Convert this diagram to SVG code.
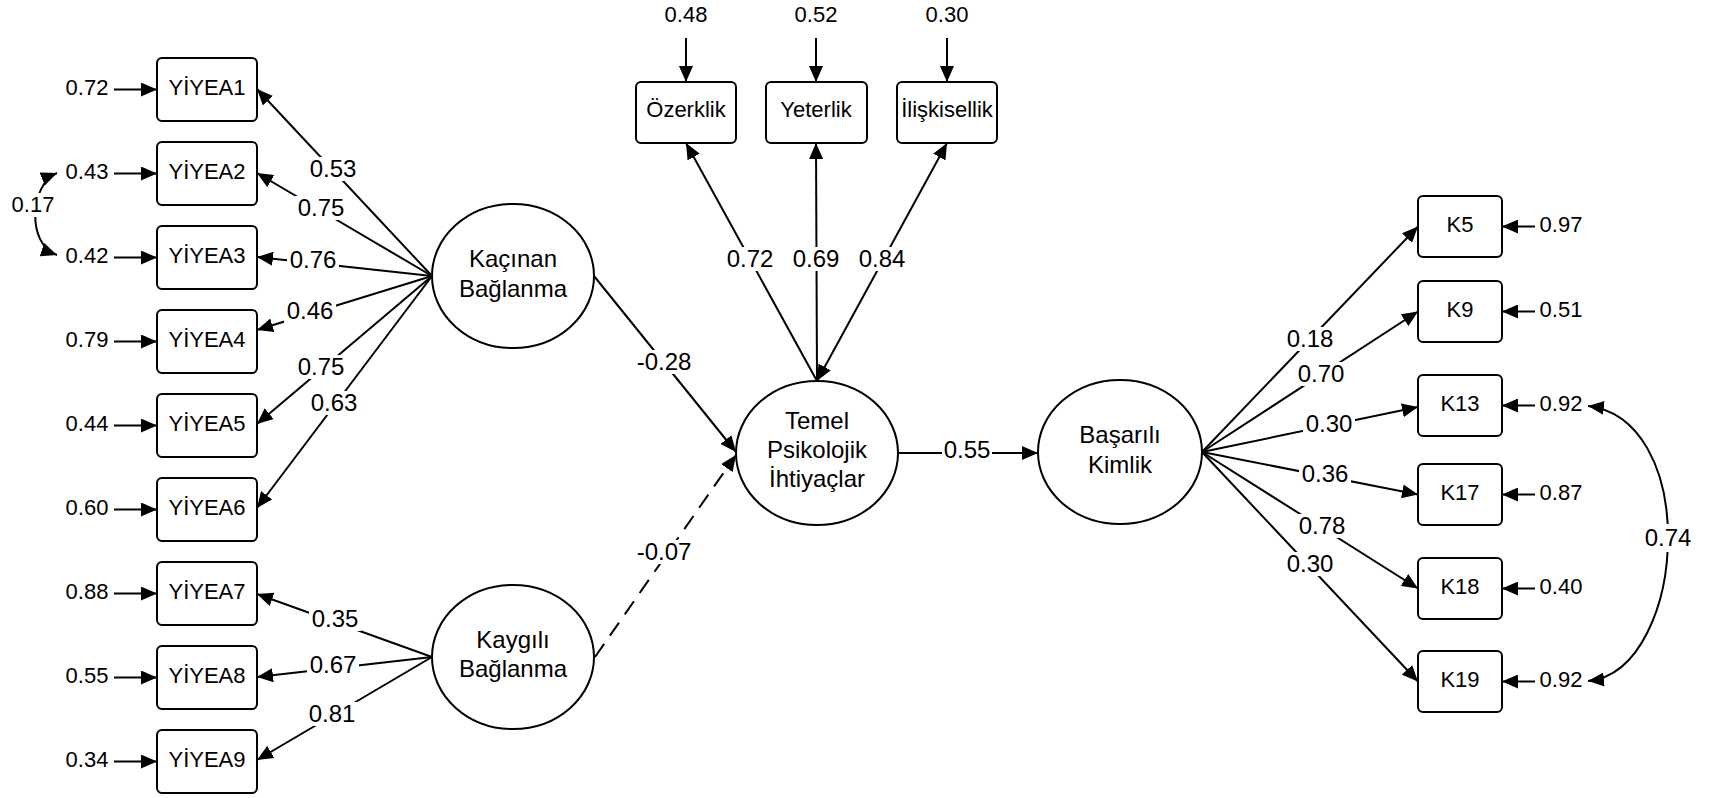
<svg xmlns="http://www.w3.org/2000/svg" width="1709" height="798" viewBox="0 0 1709 798">
<defs>
<style>
.box{fill:#fff;stroke:#000;stroke-width:2}
.ell{fill:#fff;stroke:#000;stroke-width:2}
.c{fill:none;stroke:#000;stroke-width:2}
.d{stroke-dasharray:16 10}
.bg{fill:#fff;stroke:none}
text{font-family:"Liberation Sans",Arial,sans-serif;text-anchor:middle;fill:#000}
.t22{font-size:22px}
.t24{font-size:24px}
.lbl{font-size:24px}
</style>
<marker id="ah" markerUnits="userSpaceOnUse" markerWidth="18" markerHeight="14" refX="16" refY="7" orient="auto-start-reverse"><path d="M0,0 L16,7 L0,14 z" fill="#000"/></marker>
</defs>
<rect width="1709" height="798" fill="#fff"/>
<g id="connectors">
<path class="c" marker-end="url(#ah)" d="M114 89.5H157"/>
<path class="c" marker-end="url(#ah)" d="M114 173.5H157"/>
<path class="c" marker-end="url(#ah)" d="M114 257.5H157"/>
<path class="c" marker-end="url(#ah)" d="M114 341.5H157"/>
<path class="c" marker-end="url(#ah)" d="M114 425.5H157"/>
<path class="c" marker-end="url(#ah)" d="M114 509.5H157"/>
<path class="c" marker-end="url(#ah)" d="M114 593.5H157"/>
<path class="c" marker-end="url(#ah)" d="M114 677.5H157"/>
<path class="c" marker-end="url(#ah)" d="M114 761.5H157"/>
<path class="c" marker-start="url(#ah)" marker-end="url(#ah)" d="M57 173 C30 184, 26 244, 57 255"/>
<path class="c" marker-end="url(#ah)" d="M432 276L257 89"/>
<path class="c" marker-end="url(#ah)" d="M432 276L257 173"/>
<path class="c" marker-end="url(#ah)" d="M432 276L257 257"/>
<path class="c" marker-end="url(#ah)" d="M432 276L257 330"/>
<path class="c" marker-end="url(#ah)" d="M432 276L257 424"/>
<path class="c" marker-end="url(#ah)" d="M432 276L257 508"/>
<path class="c" marker-end="url(#ah)" d="M432 657L257 594"/>
<path class="c" marker-end="url(#ah)" d="M432 657L257 677"/>
<path class="c" marker-end="url(#ah)" d="M432 657L257 760"/>
<path class="c" marker-end="url(#ah)" d="M594 276L736 452"/>
<path class="c d" marker-end="url(#ah)" d="M595 657L736 455"/>
<path class="c" marker-end="url(#ah)" d="M898 453H1038"/>
<path class="c" marker-end="url(#ah)" d="M817 381L686 143"/>
<path class="c" marker-end="url(#ah)" d="M817 381L816 143"/>
<path class="c" marker-start="url(#ah)" marker-end="url(#ah)" d="M817 381L947 143"/>
<path class="c" marker-end="url(#ah)" d="M686 38V82"/>
<path class="c" marker-end="url(#ah)" d="M816 38V82"/>
<path class="c" marker-end="url(#ah)" d="M947 38V82"/>
<path class="c" marker-end="url(#ah)" d="M1202 452L1418 226.5"/>
<path class="c" marker-end="url(#ah)" d="M1202 452L1418 311.5"/>
<path class="c" marker-end="url(#ah)" d="M1202 452L1418 407"/>
<path class="c" marker-end="url(#ah)" d="M1202 452L1418 494.5"/>
<path class="c" marker-end="url(#ah)" d="M1202 452L1418 588.5"/>
<path class="c" marker-end="url(#ah)" d="M1202 452L1418 681.5"/>
<path class="c" marker-end="url(#ah)" d="M1535 226.5H1502"/>
<path class="c" marker-end="url(#ah)" d="M1535 311.5H1502"/>
<path class="c" marker-end="url(#ah)" d="M1535 405.5H1502"/>
<path class="c" marker-end="url(#ah)" d="M1535 494.5H1502"/>
<path class="c" marker-end="url(#ah)" d="M1535 588.5H1502"/>
<path class="c" marker-end="url(#ah)" d="M1535 681.5H1502"/>
<path class="c" marker-start="url(#ah)" marker-end="url(#ah)" d="M1588 406 C1640 412, 1668 470, 1668 537 C1668 604, 1640 676, 1588 681"/>
<!-- label backgrounds -->
<rect class="bg" x="9" y="193" width="48" height="24"/>
<rect class="bg" x="307" y="157" width="52" height="24"/>
<rect class="bg" x="295" y="196" width="52" height="24"/>
<rect class="bg" x="287" y="248" width="52" height="24"/>
<rect class="bg" x="284" y="299" width="52" height="24"/>
<rect class="bg" x="295" y="355" width="52" height="24"/>
<rect class="bg" x="308" y="391" width="52" height="24"/>
<rect class="bg" x="309" y="607" width="52" height="24"/>
<rect class="bg" x="307" y="653" width="52" height="24"/>
<rect class="bg" x="306" y="702" width="52" height="24"/>
<rect class="bg" x="634" y="350" width="60" height="24"/>
<rect class="bg" x="634" y="540" width="60" height="24"/>
<rect class="bg" x="942" y="438" width="50" height="24"/>
<rect class="bg" x="724" y="247" width="52" height="24"/>
<rect class="bg" x="790" y="247" width="52" height="24"/>
<rect class="bg" x="856" y="247" width="52" height="24"/>
<rect class="bg" x="1284" y="327" width="52" height="24"/>
<rect class="bg" x="1295" y="362" width="52" height="24"/>
<rect class="bg" x="1303" y="412" width="52" height="24"/>
<rect class="bg" x="1299" y="462" width="52" height="24"/>
<rect class="bg" x="1296" y="514" width="52" height="24"/>
<rect class="bg" x="1284" y="552" width="52" height="24"/>
<rect class="bg" x="1642" y="524" width="52" height="28"/>
<!-- error labels -->
<text class="t22" x="87" y="95">0.72</text>
<text class="t22" x="87" y="179">0.43</text>
<text class="t22" x="87" y="263">0.42</text>
<text class="t22" x="87" y="347">0.79</text>
<text class="t22" x="87" y="431">0.44</text>
<text class="t22" x="87" y="515">0.60</text>
<text class="t22" x="87" y="599">0.88</text>
<text class="t22" x="87" y="683">0.55</text>
<text class="t22" x="87" y="767">0.34</text>
<text class="t22" x="33" y="212">0.17</text>
<text class="t22" x="686" y="22">0.48</text>
<text class="t22" x="816" y="22">0.52</text>
<text class="t22" x="947" y="22">0.30</text>
<text class="t22" x="1561" y="232">0.97</text>
<text class="t22" x="1561" y="317">0.51</text>
<text class="t22" x="1561" y="411">0.92</text>
<text class="t22" x="1561" y="500">0.87</text>
<text class="t22" x="1561" y="594">0.40</text>
<text class="t22" x="1561" y="687">0.92</text>
<!-- loading labels -->
<text class="lbl" x="333" y="177">0.53</text>
<text class="lbl" x="321" y="216">0.75</text>
<text class="lbl" x="313" y="268">0.76</text>
<text class="lbl" x="310" y="319">0.46</text>
<text class="lbl" x="321" y="375">0.75</text>
<text class="lbl" x="334" y="411">0.63</text>
<text class="lbl" x="335" y="627">0.35</text>
<text class="lbl" x="333" y="673">0.67</text>
<text class="lbl" x="332" y="722">0.81</text>
<text class="lbl" x="664" y="370">-0.28</text>
<text class="lbl" x="664" y="560">-0.07</text>
<text class="lbl" x="967" y="458">0.55</text>
<text class="lbl" x="750" y="267">0.72</text>
<text class="lbl" x="816" y="267">0.69</text>
<text class="lbl" x="882" y="267">0.84</text>
<text class="lbl" x="1310" y="347">0.18</text>
<text class="lbl" x="1321" y="382">0.70</text>
<text class="lbl" x="1329" y="432">0.30</text>
<text class="lbl" x="1325" y="482">0.36</text>
<text class="lbl" x="1322" y="534">0.78</text>
<text class="lbl" x="1310" y="572">0.30</text>
<text class="lbl" x="1668" y="546">0.74</text>
</g>
<g id="YIYEA1"><rect class="box" x="157" y="58" width="100" height="63" rx="5"/><text class="t22" x="207" y="95">YİYEA1</text></g>
<g id="YIYEA2"><rect class="box" x="157" y="142" width="100" height="63" rx="5"/><text class="t22" x="207" y="179">YİYEA2</text></g>
<g id="YIYEA3"><rect class="box" x="157" y="226" width="100" height="63" rx="5"/><text class="t22" x="207" y="263">YİYEA3</text></g>
<g id="YIYEA4"><rect class="box" x="157" y="310" width="100" height="63" rx="5"/><text class="t22" x="207" y="347">YİYEA4</text></g>
<g id="YIYEA5"><rect class="box" x="157" y="394" width="100" height="63" rx="5"/><text class="t22" x="207" y="431">YİYEA5</text></g>
<g id="YIYEA6"><rect class="box" x="157" y="478" width="100" height="63" rx="5"/><text class="t22" x="207" y="515">YİYEA6</text></g>
<g id="YIYEA7"><rect class="box" x="157" y="562" width="100" height="63" rx="5"/><text class="t22" x="207" y="599">YİYEA7</text></g>
<g id="YIYEA8"><rect class="box" x="157" y="646" width="100" height="63" rx="5"/><text class="t22" x="207" y="683">YİYEA8</text></g>
<g id="YIYEA9"><rect class="box" x="157" y="730" width="100" height="63" rx="5"/><text class="t22" x="207" y="767">YİYEA9</text></g>
<g id="Kacinan"><ellipse class="ell" cx="513" cy="276" rx="81" ry="72"/><text class="t24" x="513" y="267">Kaçınan</text><text class="t24" x="513" y="297">Bağlanma</text></g>
<g id="Kaygili"><ellipse class="ell" cx="513" cy="657" rx="81" ry="72"/><text class="t24" x="513" y="648">Kaygılı</text><text class="t24" x="513" y="677">Bağlanma</text></g>
<g id="Temel"><ellipse class="ell" cx="817" cy="453" rx="81" ry="72"/><text class="t24" x="817" y="429">Temel</text><text class="t24" x="817" y="458">Psikolojik</text><text class="t24" x="817" y="487">İhtiyaçlar</text></g>
<g id="Basarili"><ellipse class="ell" cx="1120" cy="452" rx="82" ry="72"/><text class="t24" x="1120" y="443">Başarılı</text><text class="t24" x="1120" y="473">Kimlik</text></g>
<g id="Ozerklik"><rect class="box" x="636" y="82" width="100" height="61" rx="5"/><text class="t22" x="686" y="117">Özerklik</text></g>
<g id="Yeterlik"><rect class="box" x="766" y="82" width="101" height="61" rx="5"/><text class="t22" x="816" y="117">Yeterlik</text></g>
<g id="Iliskisellik"><rect class="box" x="897" y="82" width="100" height="61" rx="5"/><text class="t22" x="947" y="117">İlişkisellik</text></g>
<g id="K5"><rect class="box" x="1418" y="196" width="84" height="61" rx="5"/><text class="t22" x="1460" y="232">K5</text></g>
<g id="K9"><rect class="box" x="1418" y="281" width="84" height="61" rx="5"/><text class="t22" x="1460" y="317">K9</text></g>
<g id="K13"><rect class="box" x="1418" y="375" width="84" height="61" rx="5"/><text class="t22" x="1460" y="411">K13</text></g>
<g id="K17"><rect class="box" x="1418" y="464" width="84" height="61" rx="5"/><text class="t22" x="1460" y="500">K17</text></g>
<g id="K18"><rect class="box" x="1418" y="558" width="84" height="61" rx="5"/><text class="t22" x="1460" y="594">K18</text></g>
<g id="K19"><rect class="box" x="1418" y="651" width="84" height="61" rx="5"/><text class="t22" x="1460" y="687">K19</text></g>
</svg>
